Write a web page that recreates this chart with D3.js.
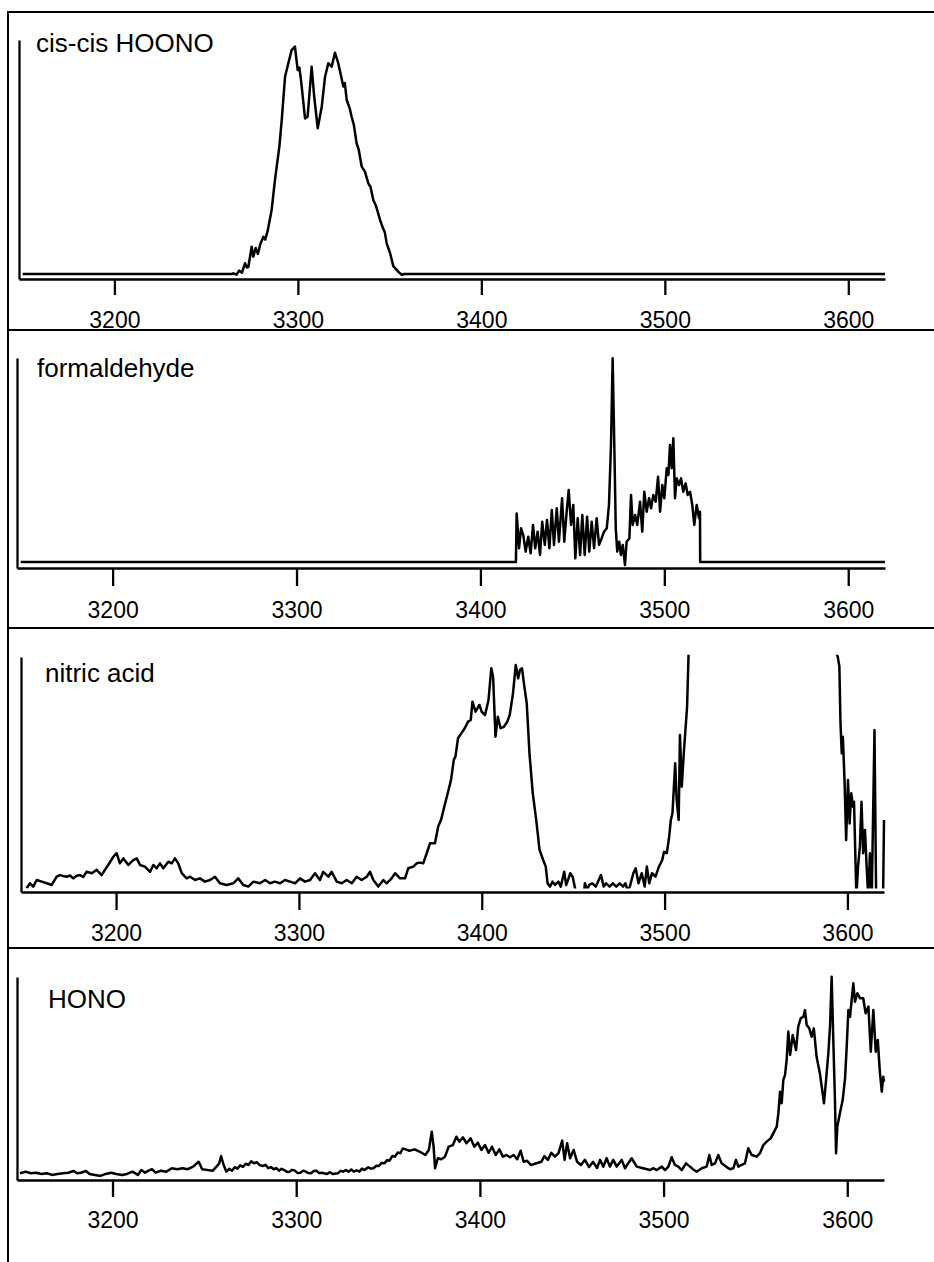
<!DOCTYPE html>
<html>
<head>
<meta charset="utf-8">
<script src="https://cdn.jsdelivr.net/npm/d3@7"></script>
<style>
  html, body { margin: 0; padding: 0; background: #fff; }
  svg { display: block; }
  text { font-family: "Liberation Sans", Arial, Helvetica, sans-serif; fill: #000; }
</style>
</head>
<body>
<svg id="chart" width="934" height="1262"></svg>
<script>
// ---------------- DATA ----------------
const compounds = ["cis-cis HOONO", "formaldehyde", "nitric acid", "HONO"];
const xTicks = [3200, 3300, 3400, 3500, 3600];
const xDomain = [3148, 3620];

// [wavenumber (cm-1), relative intensity]
const hoono = [
  [3150,2.1],[3264,2.1],[3264.8,2.4],[3266.5,1.8],[3268,3.5],[3269.5,2.6],[3271.2,6.6],[3272.2,4.8],[3273,5],[3274.8,13.5],[3275.7,9.3],
  [3277,13],[3278.2,10.5],[3279.5,14.5],[3281.2,17.7],[3282.2,16.5],[3283.5,20],[3285.7,28.9],[3287.5,41.4],[3289.9,55.4],[3291.2,66.5],
  [3293,84.6],[3294.8,90.3],[3296.6,95.8],[3298.4,97.2],[3299.9,87.4],[3300.8,88.5],[3301.7,83.3],[3303.9,67.2],[3305.3,67.9],
  [3307.5,88.8],[3308.9,76.3],[3310.8,63.1],[3313,72.1],[3314.8,84.6],[3316.6,90.3],[3318.4,88.8],[3320.2,94.7],
  [3322,90.3],[3324.8,80.5],[3325.6,82],[3326.6,74.9],[3328.2,71.5],[3329.3,67.9],[3330.5,64.5],[3332,56.8],[3333.2,54],[3334.8,47],[3336.5,45],[3338.4,40],
  [3339.6,38.5],[3341.1,33.1],[3342.6,30.5],[3344.8,24.7],[3346.5,21],[3347.4,19.5],[3348.4,14.9],[3350.2,11],[3352,5.4],[3354.7,3.1],[3356.6,1.7],
  [3358,2.1],[3620,2.1]
];

const formaldehyde = [
  [3150,2.9],[3419.3,2.9],[3419.7,26],[3421,9.4],[3422.1,18.9],[3423.3,15.7],[3424.6,7.8],[3426,14.9],[3427.3,7],
  [3428.6,20.5],[3429.8,9.4],[3431.1,17.3],[3432.4,6.2],[3433.6,22],[3435,11],[3436.2,22.9],[3437.5,9.4],
  [3438.8,27.6],[3440,11],[3441.5,28.4],[3442.7,12.5],[3444.4,33.2],[3445.6,12.5],[3446.9,26.8],[3448,37.1],
  [3449.3,20.5],[3450.5,30],[3451.6,4.6],[3452.9,23.7],[3454.2,6.2],[3455.4,25.2],[3456.7,6.2],[3458,24.4],
  [3459.2,7.8],[3460.5,22],[3461.8,9.4],[3463.2,23.7],[3464.5,11],[3465.9,14.1],[3467.2,17.3],[3468.7,18.9],
  [3469.9,30],[3471,58.6],[3471.9,99.9],[3472.8,58.6],[3473.6,18.9],[3474.4,7.8],[3475.5,12.5],[3476.4,6.2],
  [3477.4,11],[3478.6,1.4],[3479.5,12.5],[3481,14.1],[3481.9,34.8],[3482.8,20.5],[3484.1,25.2],[3485.3,20.5],
  [3486.8,31.6],[3488,17.3],[3489.1,36.3],[3490.4,26.8],[3491.7,33.2],[3492.8,28.4],[3494,34.8],[3495.3,31.6],
  [3496.6,43.5],[3497.7,26.8],[3498.9,39.5],[3500,33.2],[3501.3,47.5],[3502.2,44.3],[3503.1,58.6],[3504,47.5],
  [3504.9,61.8],[3505.8,33.2],[3506.7,42.7],[3508,39.5],[3509.1,42.7],[3510.3,36.3],[3511.6,40.3],[3512.7,34.8],
  [3514,36.3],[3515.2,30],[3516.3,20.5],[3517.6,30],[3518.9,23.7],[3519.4,26.8],[3519.5,2.9],[3620,2.9]
];

const nitricAcid = [
  [3151.1,1.6],[3152.9,3.7],[3154.7,2.3],[3156.6,5.1],[3159.3,4.4],[3162.1,3.7],[3164.8,3.0],[3167.5,6.5],
  [3169.3,7.2],[3171,6.8],[3173,6.5],[3174.8,7.0],[3176.6,5.8],[3178.5,6.9],[3180.3,7.2],[3182,6.4],[3183.9,8.6],[3186.7,8.0],[3189.4,9.4],[3192.1,7.2],
  [3193.9,9.4],[3195.7,11.5],[3198.5,15.0],[3200.3,16.5],[3202.1,12.2],[3204,14.3],[3206.7,11.5],[3209.4,13.6],
  [3211.3,14.3],[3213.1,11.5],[3215.8,10.8],[3218.6,8.6],[3220.4,11.5],[3222.2,10.1],[3224,12.2],[3225.8,10.1],
  [3228.6,12.9],[3230.4,12.2],[3232.2,14.3],[3234,12.2],[3235.9,8.0],[3238.6,5.8],[3240.4,6.5],[3243.2,5.1],
  [3245.9,5.8],[3248.6,4.4],[3251.4,5.1],[3254.1,6.5],[3256.8,3.7],[3260.5,3.0],[3264.1,3.7],[3266.8,5.8],
  [3269.6,3.0],[3272.3,2.3],[3275.1,4.4],[3278.7,3.7],[3281.5,5.1],[3284.2,3.7],[3286.9,4.4],[3289.7,3.7],
  [3292.4,5.1],[3295.1,4.4],[3297.9,3.7],[3300.6,5.8],[3303.3,4.4],[3306.1,5.1],[3308.8,8.0],[3311.5,5.1],
  [3313.3,8.6],[3316.1,6.5],[3317.9,8.6],[3320.7,4.4],[3323.4,3.7],[3326.1,5.1],[3328.9,3.7],[3331.6,6.5],
  [3334.3,5.1],[3337.1,6.5],[3338.9,8.6],[3340.7,5.1],[3343.4,2.3],[3346.2,5.1],[3348,3.7],[3350.7,5.8],
  [3352.6,8.0],[3355.3,5.8],[3358,5.8],[3359.8,10.1],[3362.6,10.8],[3364.4,12.2],[3366.2,12.5],[3368,12.2],
  [3369.9,16.5],[3371.7,20.7],[3374.4,20.7],[3376.2,28],[3377.7,30.6],[3379.5,36.3],[3381.4,42.0],[3383.2,47.7],
  [3384.7,56.2],[3385.6,57.6],[3387,65.4],[3388.8,67.5],[3390.7,69.7],[3392.5,72.5],[3394,73.2],[3394.9,81.0],
  [3396.6,76.7],[3398.7,79.6],[3400,76.7],[3401.8,75.3],[3403.7,81.7],[3405.2,95.2],[3406.2,91.6],[3407.5,66.1],
  [3408.8,74.6],[3410.3,69.7],[3412.1,70.3],[3414,72.5],[3415.3,75.3],[3417.1,84.6],[3418.6,96.6],[3419.9,90.9],
  [3420.9,94.5],[3422,95.2],[3423.3,87.4],[3424.6,80.3],[3426.1,59.0],[3427.9,42.0],[3429.8,30.6],[3431.6,17.9],
  [3433.6,13.6],[3435,10.8],[3436,3.7],[3437.3,2.3],[3438.7,4.4],[3440.1,3.0],[3441.9,4.4],[3443.2,2.3],
  [3445.1,8.6],[3446.2,3.0],[3447.5,5.8],[3448.4,8.0],[3449.7,6.5],[3451.2,1.0],[3453,-4],[3455.5,-4],
  [3456.4,3.7],[3457.7,1.0],[3458.7,3.0],[3460.5,3.7],[3462.4,2.3],[3465.2,7.2],[3466.7,2.3],[3468,3.7],
  [3469.9,2.3],[3471.7,3.7],[3473.6,2.3],[3475.4,3.7],[3477.3,2.3],[3478.6,3.7],[3479.7,0.8],[3481,2.3],
  [3482.9,8.0],[3484.2,10.1],[3485.7,3.7],[3487.5,8.0],[3489.1,2.3],[3490.3,10.8],[3491.6,3.7],[3493.1,8.0],
  [3495,6.5],[3496.9,10.8],[3498.7,13.6],[3499.7,17.1],[3501.2,16.5],[3502.5,23.5],[3503.4,30.6],[3504.3,33.5],
  [3505.3,47.7],[3505.8,54.8],[3506.6,39.1],[3507.7,30.6],[3508.4,66.8],[3509.4,44.8],[3510.5,59.0],[3511.4,68.9],
  [3512.3,78.9],[3513.1,100.9],[3515,130],[3593,130],[3594.3,100.9],[3594.7,100.1],[3595.6,95.9],[3596.2,71.8],
  [3596.9,59.0],[3597.5,66.1],[3598.4,47.7],[3599.3,22.1],[3600.3,47.7],[3601.2,29.2],[3602.1,42.0],[3603,36.3],
  [3603.6,38.4],[3604.9,-2],[3605.8,10.8],[3606.8,19.3],[3607.7,38.4],[3608.6,16.5],[3609.6,26.4],[3610.5,10.8],
  [3611.4,-2],[3612.3,16.5],[3613.3,-2],[3614.8,68.9],[3615.7,-2],[3617.5,-6],[3619.5,-2],[3620,30.6]
];

const hono = [
  [3149.6,3.3],[3152.6,4.1],[3155.5,3.3],[3158.4,3.6],[3161.3,3.0],[3164.2,3.3],[3167.1,2.5],[3170,3.0],
  [3173,3.3],[3175.9,3.6],[3178.8,4.4],[3180.7,3.3],[3182.7,3.6],[3185.6,4.4],[3187.5,3.0],[3190.5,2.5],
  [3193.4,2.0],[3196.3,3.0],[3199.2,3.6],[3202.1,3.0],[3205.1,2.5],[3207.9,3.0],[3210.9,4.1],[3213.8,2.5],
  [3215.7,4.9],[3217.7,3.6],[3219.6,4.6],[3221.5,5.3],[3223.5,3.6],[3226.4,4.6],[3229.3,4.1],[3232.3,5.8],
  [3235.2,5.3],[3238.1,5.8],[3241,5.3],[3243.9,6.6],[3246.9,9.0],[3248.8,5.3],[3251.7,4.9],[3254.6,4.6],
  [3256.6,6.6],[3258.1,8.2],[3259.1,11.8],[3260.5,7.4],[3262,4.1],[3263.5,5.5],[3265,4.6],[3266.5,6.3],
  [3268,5.6],[3269.5,7.2],[3271,6.5],[3272.5,8.0],[3274,7.4],[3275.5,9.2],[3277,8.2],[3278.5,8.8],
  [3280,7.4],[3281.9,6.9],[3283.3,7.5],[3284.8,5.8],[3286.2,6.4],[3287.7,5.3],[3289.2,5.9],[3290.6,4.6],[3292,5.5],[3293.5,4.9],
  [3295,4.0],[3296.4,4.1],[3297.8,5.0],[3299.3,4.6],[3300.8,3.4],[3302.3,3.6],[3303.7,4.6],[3305.2,4.1],[3306.6,3.4],[3308.1,3.3],[3309.5,4.4],[3311,4.6],[3312.5,3.4],[3313.9,3.6],[3316.8,3.0],
  [3318.3,3.8],[3319.8,3.0],[3322.7,3.3],[3324.2,4.5],[3325.6,4.1],[3327,4.9],[3328.5,4.1],[3330,5.2],[3331.4,4.1],[3332.9,4.8],[3334.4,4.1],[3335.8,5.6],[3337.2,4.9],[3339.2,6.3],
  [3340.5,5.6],[3342.1,5.8],[3343.5,7.0],[3345,6.9],[3346.5,8.4],[3348,8.2],[3349.5,9.8],[3350.8,9.5],[3352.3,11.8],[3353.8,11.5],
  [3355.2,13.5],[3356.7,13.2],[3358,15.5],[3359.6,15.1],[3361.6,14.4],
  [3364.5,15.1],[3367.4,13.9],[3370.3,12.3],[3372.2,14.8],[3373.8,23.8],[3374.8,16.4],[3375.6,5.8],[3377.1,10.7],
  [3379,10.2],[3381,11.5],[3383,16.4],[3385.3,17.2],[3387.2,21.3],[3388.8,18.9],[3390.8,21.0],[3392.7,18.1],
  [3395,20.5],[3397,16.4],[3398.9,18.4],[3400.8,14.8],[3402.8,17.2],[3404.7,13.4],[3406.6,16.4],[3408.6,12.3],
  [3410.6,15.1],[3412.5,11.5],[3414.4,12.3],[3416.4,11.2],[3418.4,12.3],[3420.3,10.2],[3422.2,14.4],[3423.8,9.0],
  [3425.7,9.5],[3427.7,7.4],[3429.6,7.9],[3431.6,8.5],[3433.5,9.0],[3435.1,11.8],[3437,9.9],[3438.9,13.4],
  [3440.9,11.5],[3442.8,13.2],[3444.8,19.4],[3446.1,9.9],[3447.5,18.1],[3449.1,10.7],[3451,14.8],[3452.9,9.0],
  [3455,7.4],[3457.2,9.9],[3459.4,6.4],[3461.6,8.9],[3463.8,5.9],[3465.4,9.9],[3467.2,6.6],[3469,10.7],
  [3470.8,6.6],[3472.6,9.9],[3474.5,6.6],[3477.2,9.9],[3479,5.8],[3482.6,10.7],[3485.4,6.6],[3488.9,5.8],
  [3492.6,4.9],[3494.5,5.8],[3496.3,4.9],[3499,6.6],[3500.8,4.9],[3502.6,6.6],[3504.4,11.2],[3506.2,7.4],[3508,6.6],
  [3509.9,4.9],[3512.2,8.2],[3514.4,6.6],[3516.2,5.2],[3518,4.1],[3520.8,5.8],[3523.5,6.6],[3524.9,12.3],[3526.2,7.4],
  [3528,8.2],[3529.8,12.3],[3531.6,8.2],[3534,6.6],[3536.2,5.3],[3538,5.8],[3539.4,9.9],[3540.7,6.6],
  [3542.5,7.4],[3544.3,8.2],[3546.1,15.6],[3548,12.3],[3550.7,11.5],[3552.5,13.2],[3554.3,17.2],[3556.1,18.9],
  [3558.3,20.5],[3559.7,23.0],[3561.6,26.3],[3562.5,32.9],[3563.4,43.5],[3564.3,37.8],[3565.2,49.3],[3566.1,51.7],
  [3567,59.1],[3567.9,73.1],[3568.9,61.6],[3570.3,71.4],[3572.1,64.0],[3573.3,75.5],[3574.7,79.7],[3576.1,80.4],
  [3577,83.7],[3577.9,76.4],[3579.3,74.7],[3580.6,70.6],[3581.8,74.7],[3583.3,60.7],[3585.1,52.6],[3586.6,42.7],
  [3587.3,37.8],[3588.3,47.6],[3589.7,62.4],[3590.6,75.5],[3591.5,100.1],[3592.4,69.0],[3593.3,39.4],[3593.9,13.2],
  [3594.6,26.3],[3596,32.9],[3597.5,39.4],[3598.8,50.1],[3599.7,65.7],[3600.6,83.7],[3601.5,80.4],[3602.4,88.7],
  [3603.3,96.9],[3604.2,87.8],[3605.5,92.0],[3607,89.5],[3608.7,89.5],[3610,82.1],[3611.5,85.4],[3612.8,63.2],
  [3614.2,83.7],[3615.5,63.2],[3616.6,69.0],[3617.8,52.6],[3618.8,43.5],[3619.6,50.9],[3620,48.4]
];

const series = [hoono, formaldehyde, nitricAcid, hono];

// ---------------- LAYOUT ----------------
const panelLayout = [
  { x0: 19, x1: 885, yTop: 40,  yAxis: 279,  labelX: 36, labelY: 52,   tickLen: 16, tickBase: 328,  clip: null },
  { x0: 17, x1: 885, yTop: 358, yAxis: 568,  labelX: 37, labelY: 377,  tickLen: 18, tickBase: 618,  clip: null },
  { x0: 21, x1: 884, yTop: 657, yAxis: 892,  labelX: 45, labelY: 682,  tickLen: 18, tickBase: 941,  clip: [1.5, 101] },
  { x0: 17, x1: 884, yTop: 977, yAxis: 1180, labelX: 48, labelY: 1008, tickLen: 17, tickBase: 1228, clip: null }
];
const separators = [12, 330, 628, 948];
const tickFont = 23;
const labelFont = 26;

const svg = d3.select("#chart");

// frame: left rule and horizontal separators
svg.append("line")
  .attr("x1", 8).attr("x2", 8).attr("y1", separators[0] - 1).attr("y2", 1262)
  .attr("stroke", "#000").attr("stroke-width", 2);
svg.selectAll("line.sep").data(separators).enter().append("line")
  .attr("class", "sep")
  .attr("x1", 8).attr("x2", 934)
  .attr("y1", d => d).attr("y2", d => d)
  .attr("stroke", "#000").attr("stroke-width", 2);

const defs = svg.append("defs");

panelLayout.forEach((p, i) => {
  const x = d3.scaleLinear().domain(xDomain).range([p.x0, p.x1]);
  const y = d3.scaleLinear().domain([0, 100]).range([p.yAxis, p.yTop]);
  const g = svg.append("g");

  // x axis
  const pad = (p.tickBase - p.yAxis) - p.tickLen - 0.71 * tickFont;
  const xAxis = d3.axisBottom(x)
    .tickValues(xTicks)
    .tickFormat(d3.format("d"))
    .tickSize(p.tickLen)
    .tickSizeOuter(0)
    .tickPadding(pad);
  const gx = g.append("g").attr("transform", `translate(0,${p.yAxis})`).call(xAxis);
  gx.select(".domain").attr("stroke", "#000").attr("stroke-width", 2.3);
  gx.selectAll(".tick line").attr("stroke", "#000").attr("stroke-width", 2.3);
  gx.selectAll(".tick text")
    .attr("font-size", tickFont)
    .attr("font-family", '"Liberation Sans", Arial, sans-serif')
    .attr("fill", "#000");

  // y axis: bare vertical line
  const yAxis = d3.axisLeft(y).tickValues([]).tickSizeOuter(0);
  const gy = g.append("g").attr("transform", `translate(${p.x0},0)`).call(yAxis);
  gy.select(".domain").attr("stroke", "#000").attr("stroke-width", 2.3);

  // clip region (for off-scale data)
  const clipId = "clip" + i;
  const lo = p.clip ? p.clip[0] : -10;
  const hi = p.clip ? p.clip[1] : 110;
  defs.append("clipPath").attr("id", clipId)
    .append("rect")
    .attr("x", p.x0).attr("width", p.x1 - p.x0 + 3)
    .attr("y", y(hi)).attr("height", y(lo) - y(hi));

  const line = d3.line()
    .x(d => x(d[0]))
    .y(d => y(d[1]));

  g.append("path")
    .datum(series[i])
    .attr("clip-path", `url(#${clipId})`)
    .attr("fill", "none")
    .attr("stroke", "#000")
    .attr("stroke-width", 2.5)
    .attr("stroke-linejoin", "round")
    .attr("d", line);

  g.append("text")
    .attr("x", p.labelX).attr("y", p.labelY)
    .attr("font-size", labelFont)
    .text(compounds[i]);
});
</script>
</body>
</html>
